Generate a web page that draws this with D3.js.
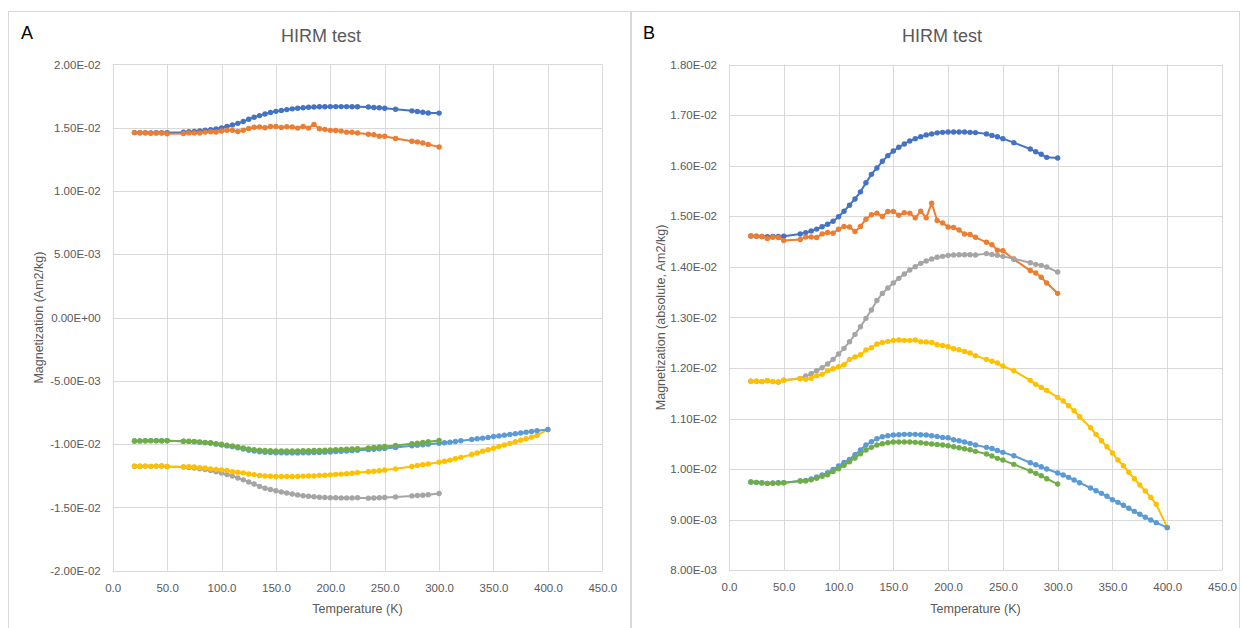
<!DOCTYPE html>
<html>
<head>
<meta charset="utf-8">
<script src="https://cdn.jsdelivr.net/npm/d3@7"></script>
<style>
  html, body { margin: 0; padding: 0; background: #fff; }
  svg { display: block; font-family: "Liberation Sans", Arial, sans-serif; }
</style>
</head>
<body>
<svg id="chart" width="1241" height="628"></svg>
<script>
// ---------------- DATA ----------------
// Temperatures (K) shared by the 300 K series
const temps300 = [20,25,30,35,40,45,50,
  65,70,75,80,85,90,95,100,105,110,115,120,125,130,135,140,145,150,155,160,165,170,175,180,
  185,190,195,200,205,210,215,220,225,235,240,245,250,260,275,280,285,290,300];
// Extra temperatures for the series that go to 400 K
const tempsExtra = [305,310,315,320,330,335,340,345,350,355,360,365,370,375,380,385,390,400];
const temps400 = temps300.concat(tempsExtra);

// Magnetization (Am2/kg), signed as in panel A
const seriesBlue = [0.014612,0.014605,0.014600,0.014595,0.014600,0.014600,0.014605,
  0.014650,0.014678,0.014711,0.014747,0.014794,0.014843,0.014903,0.014990,0.015100,0.015220,0.015343,0.015484,0.015663,0.015830,
  0.015955,0.016088,0.016200,0.016292,0.016365,0.016430,0.016490,0.016536,0.016575,0.016610,0.016630,0.016650,0.016660,0.016666,
  0.016668,0.016668,0.016666,0.016660,0.016655,0.016630,0.016600,0.016573,0.016536,0.016457,0.016330,0.016278,0.016226,0.016166,0.016153];
const seriesOrange = [0.014612,0.014605,0.014600,0.014560,0.014585,0.014580,0.014520,
  0.014540,0.014590,0.014590,0.014580,0.014652,0.014680,0.014665,0.014745,0.014800,0.014790,0.014700,0.014800,0.014943,0.015030,
  0.015062,0.014995,0.015095,0.015095,0.015022,0.015070,0.015062,0.014970,0.015100,0.014970,0.015260,0.014916,0.014870,0.014790,
  0.014780,0.014730,0.014650,0.014640,0.014585,0.014486,0.014440,0.014330,0.014319,0.014149,0.013927,0.013880,0.013795,0.013682,0.013477];
const seriesGrey = [-0.011737,-0.011737,-0.011731,-0.011750,-0.011731,-0.011724,-0.011757,
  -0.011796,-0.011841,-0.011887,-0.011946,-0.012006,-0.012079,-0.012171,-0.012276,-0.012389,-0.012520,-0.012666,-0.012816,-0.012982,-0.013147,
  -0.013335,-0.013476,-0.013582,-0.013680,-0.013773,-0.013858,-0.013938,-0.014003,-0.014070,-0.014116,-0.014155,-0.014189,-0.014208,-0.014228,
  -0.014234,-0.014240,-0.014240,-0.014240,-0.014234,-0.014262,-0.014244,-0.014230,-0.014208,-0.014161,-0.014082,-0.014050,-0.014030,-0.013997,-0.013898];
const seriesYellow = [-0.011737,-0.011737,-0.011731,-0.011750,-0.011731,-0.011724,-0.011757,
  -0.011788,-0.011776,-0.011796,-0.011849,-0.011875,-0.011946,-0.011986,-0.012025,-0.012065,-0.012171,-0.012217,-0.012263,-0.012356,-0.012401,
  -0.012474,-0.012507,-0.012527,-0.012547,-0.012553,-0.012547,-0.012547,-0.012553,-0.012520,-0.012514,-0.012507,-0.012460,-0.012447,-0.012421,
  -0.012381,-0.012362,-0.012329,-0.012296,-0.012243,-0.012171,-0.012135,-0.012100,-0.012039,-0.011946,-0.011756,-0.011677,-0.011617,-0.011558,-0.011420,
  -0.011347,-0.011254,-0.011155,-0.011037,-0.010819,-0.010688,-0.010562,-0.010443,-0.010319,-0.010180,-0.010068,-0.009937,-0.009810,-0.009686,-0.009567,-0.009442,-0.009304,-0.008849];
const seriesLightBlue = [-0.009745,-0.009739,-0.009732,-0.009719,-0.009726,-0.009732,-0.009732,
  -0.009765,-0.009778,-0.009804,-0.009844,-0.009884,-0.009929,-0.009996,-0.010062,-0.010135,-0.010194,-0.010285,-0.010378,-0.010477,-0.010542,
  -0.010602,-0.010641,-0.010661,-0.010675,-0.010681,-0.010688,-0.010688,-0.010688,-0.010681,-0.010675,-0.010661,-0.010648,-0.010628,-0.010621,
  -0.010582,-0.010562,-0.010536,-0.010510,-0.010477,-0.010431,-0.010408,-0.010368,-0.010332,-0.010266,-0.010127,-0.010087,-0.010048,-0.010002,-0.009923,
  -0.009884,-0.009838,-0.009785,-0.009732,-0.009627,-0.009574,-0.009522,-0.009463,-0.009396,-0.009344,-0.009285,-0.009226,-0.009166,-0.009107,-0.009048,-0.008995,-0.008942,-0.008843];
const seriesGreen = [-0.009745,-0.009739,-0.009726,-0.009719,-0.009719,-0.009726,-0.009732,
  -0.009765,-0.009765,-0.009791,-0.009818,-0.009858,-0.009889,-0.009956,-0.010008,-0.010075,-0.010147,-0.010220,-0.010305,-0.010378,-0.010431,
  -0.010477,-0.010503,-0.010523,-0.010536,-0.010536,-0.010536,-0.010536,-0.010530,-0.010523,-0.010510,-0.010497,-0.010490,-0.010477,-0.010463,
  -0.010444,-0.010424,-0.010404,-0.010384,-0.010352,-0.010299,-0.010259,-0.010214,-0.010180,-0.010095,-0.009963,-0.009917,-0.009870,-0.009810,-0.009706];

const seriesColors = ["#4472C4","#ED7D31","#A5A5A5","#FFC000","#5B9BD5","#70AD47"];

// Tick values
const xTicks = [0,50,100,150,200,250,300,350,400,450];
const yTicksA = [-0.02,-0.015,-0.01,-0.005,0,0.005,0.01,0.015,0.02];
const yTicksB = [0.008,0.009,0.010,0.011,0.012,0.013,0.014,0.015,0.016,0.017,0.018];

const titleText = "HIRM test";
const xTitle = "Temperature (K)";
const yTitleA = "Magnetization (Am2/kg)";
const yTitleB = "Magnetization (absolute, Am2/kg)";

// ---------------- DRAWING ----------------
const series = [
  {t: temps300, v: seriesBlue},
  {t: temps300, v: seriesOrange},
  {t: temps300, v: seriesGrey},
  {t: temps400, v: seriesYellow},
  {t: temps400, v: seriesLightBlue},
  {t: temps300, v: seriesGreen}
].map((s, i) => ({pts: s.t.map((t, j) => ({t, v: s.v[j]})), color: seriesColors[i]}));

function sci(v) {
  if (Math.abs(v) < 1e-15) return "0.00E+00";
  let e = Math.floor(Math.log10(Math.abs(v)) + 1e-9);
  let m = v / Math.pow(10, e);
  let ms = m.toFixed(2);
  if (Math.abs(parseFloat(ms)) >= 10) { e += 1; ms = (v / Math.pow(10, e)).toFixed(2); }
  const es = String(Math.abs(e)).padStart(2, "0");
  return ms + "E" + (e < 0 ? "-" : "+") + es;
}
const fmtX = d3.format(".1f");

const svg = d3.select("#chart");

function drawPanel(cfg) {
  const g = svg.append("g");
  // frame
  g.append("rect").attr("x", cfg.frame[0]).attr("y", cfg.frame[1])
    .attr("width", cfg.frame[2]).attr("height", cfg.frame[3])
    .attr("fill", "none").attr("stroke", "#D9D9D9").attr("stroke-width", 1);

  const x = d3.scaleLinear().domain([0, 450]).range([cfg.left, cfg.right]);
  const y = d3.scaleLinear().domain(cfg.yDomain).range([cfg.bottom, cfg.top]);

  // gridlines
  const grid = g.append("g").attr("stroke", "#D9D9D9").attr("stroke-width", 1);
  cfg.yTicks.forEach(tv => {
    const yy = Math.round(y(tv)) + 0.5;
    grid.append("line").attr("x1", x(0)).attr("x2", x(450)).attr("y1", yy).attr("y2", yy);
  });
  xTicks.forEach(tv => {
    const xx = Math.round(x(tv)) + 0.5;
    grid.append("line").attr("x1", xx).attr("x2", xx).attr("y1", y(cfg.yDomain[1])).attr("y2", y(cfg.yDomain[0]));
  });

  // axes labels via d3 axes (lines hidden)
  const yAxis = d3.axisLeft(y).tickValues(cfg.yTicks).tickFormat(sci).tickSize(0).tickPadding(12);
  const ya = g.append("g").attr("transform", `translate(${cfg.left},0)`).call(yAxis);
  const xAxis = d3.axisBottom(x).tickValues(xTicks).tickFormat(fmtX).tickSize(0).tickPadding(13);
  const xa = g.append("g").attr("transform", `translate(0,${cfg.bottom})`).call(xAxis);
  [ya, xa].forEach(a => {
    a.select(".domain").remove();
    a.selectAll("text").attr("fill", "#595959").style("font-size", "11.5px")
      .style("font-family", '"Liberation Sans", Arial, sans-serif');
  });

  // titles
  g.append("text").attr("x", cfg.titleX).attr("y", 41.5).attr("text-anchor", "middle")
    .attr("fill", "#595959").style("font-size", "18px").text(titleText);
  g.append("text").attr("x", cfg.letterX).attr("y", 39.3)
    .attr("fill", "#000").style("font-size", "18px").text(cfg.letter);
  g.append("text").attr("x", (cfg.left + cfg.right) / 2).attr("y", 613).attr("text-anchor", "middle")
    .attr("fill", "#595959").style("font-size", "12.5px").text(xTitle);
  g.append("text").attr("transform", `translate(${cfg.yTitleX},${(cfg.top + cfg.bottom) / 2}) rotate(-90)`)
    .attr("text-anchor", "middle").attr("fill", "#595959").style("font-size", "12.5px").text(cfg.yTitle);

  // series
  const line = d3.line().x(d => x(d.t)).y(d => y(cfg.val(d.v)));
  series.forEach(s => {
    const sg = g.append("g");
    sg.append("path").datum(s.pts).attr("d", line).attr("fill", "none")
      .attr("stroke", s.color).attr("stroke-width", 2).attr("stroke-linejoin", "round");
    sg.selectAll("circle").data(s.pts).join("circle")
      .attr("cx", d => x(d.t)).attr("cy", d => y(cfg.val(d.v))).attr("r", 2.7)
      .attr("fill", s.color);
  });
}

drawPanel({
  frame: [8.5, 11.5, 622, 640],
  left: 112.7, right: 602.3, top: 64.4, bottom: 570.8,
  yDomain: [-0.02, 0.02], yTicks: yTicksA,
  titleX: 321, letter: "A", letterX: 21, yTitleX: 43, yTitle: yTitleA,
  val: v => v
});
drawPanel({
  frame: [631.5, 11.5, 608, 640],
  left: 729, right: 1222, top: 64.6, bottom: 570.3,
  yDomain: [0.008, 0.018], yTicks: yTicksB,
  titleX: 942, letter: "B", letterX: 643, yTitleX: 665, yTitle: yTitleB,
  val: v => Math.abs(v)
});
</script>
</body>
</html>
